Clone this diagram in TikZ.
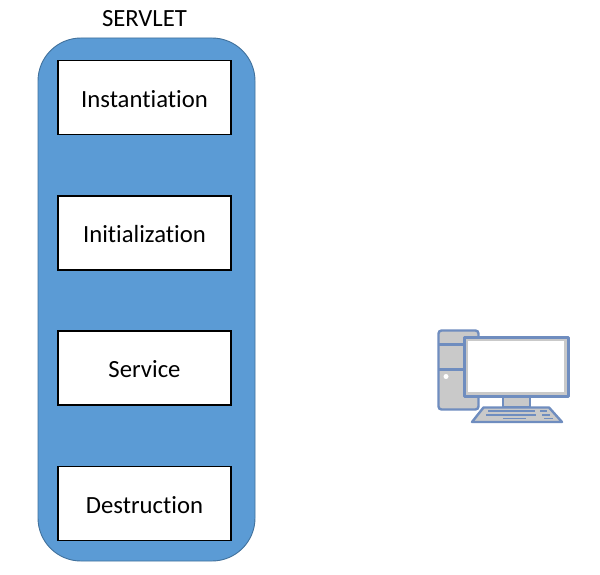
\documentclass[tikz,border=0pt]{standalone}
\usepackage{fontspec}
\setmainfont{Carlito}[RawFeature={-liga;-clig}]
\newcommand{\dropline}[1]{\raisebox{-1.2pt}[\height][\depth]{#1}}
\tikzset{
  stagebox/.style={draw=black,line width=1.3pt,fill=white,minimum width=173pt,minimum height=74pt,inner sep=0pt,font=\fontsize{24.7}{28}\selectfont,text=black},
  pcline/.style={draw=pcblue,line width=2.4pt,line join=round},
  pcfill/.style={pcline,fill=pcgray},
  keyline/.style={draw=pcblue,line width=1.5pt}
}
\definecolor{panelblue}{HTML}{5B9BD5}
\definecolor{paneledge}{HTML}{41719C}
\definecolor{pcblue}{HTML}{6F8DBF}
\definecolor{pcgray}{HTML}{C9C9C9}
\begin{document}
\begin{tikzpicture}[x=1pt,y=-1pt]
\useasboundingbox (0,0) rectangle (600,575);
\fill[white] (0,0) rectangle (600,575);
\draw[draw=paneledge,line width=0.9pt,fill=panelblue,rounded corners=43pt] (38,38) rectangle (255,561);
\node[font=\fontsize{24.7}{28}\selectfont,text=black] (title) at (144.5,19) {SERVLET};
\node[stagebox] (inst) at (144.5,97.5) {\dropline{Instantiation}};
\node[stagebox] (init) at (144.5,233) {\dropline{Initialization}};
\node[stagebox] (serv) at (144.5,368) {\dropline{Service}};
\node[stagebox] (dest) at (144.5,503.5) {\dropline{Destruction}};
% computer
\draw[pcfill,rounded corners=3pt] (438.5,330.5) rectangle (478.5,409.5);
\draw[pcline] (438.5,344.5) -- (465,344.5);
\draw[pcline] (438.5,369.5) -- (465,369.5);
\fill[white] (446,376.5) circle (2.5pt);
\draw[pcfill] (503,397) rectangle (530,407);
\draw[pcfill] (464.5,337.5) rectangle (568.5,396.5);
\fill[white] (468,341) rectangle (564,392);
\draw[pcfill] (483.5,407.5) -- (549,407.5) -- (562,422) -- (472,422) -- cycle;
\draw[keyline] (488,411) -- (535,411);
\draw[keyline] (540,411) -- (547,411);
\draw[keyline] (486,414.8) -- (536,414.8);
\draw[keyline] (542,414.8) -- (550,414.8);
\draw[keyline] (503,418.5) -- (526,418.5);
\draw[keyline] (544,418.5) -- (553,418.5);
\end{tikzpicture}
\end{document}
